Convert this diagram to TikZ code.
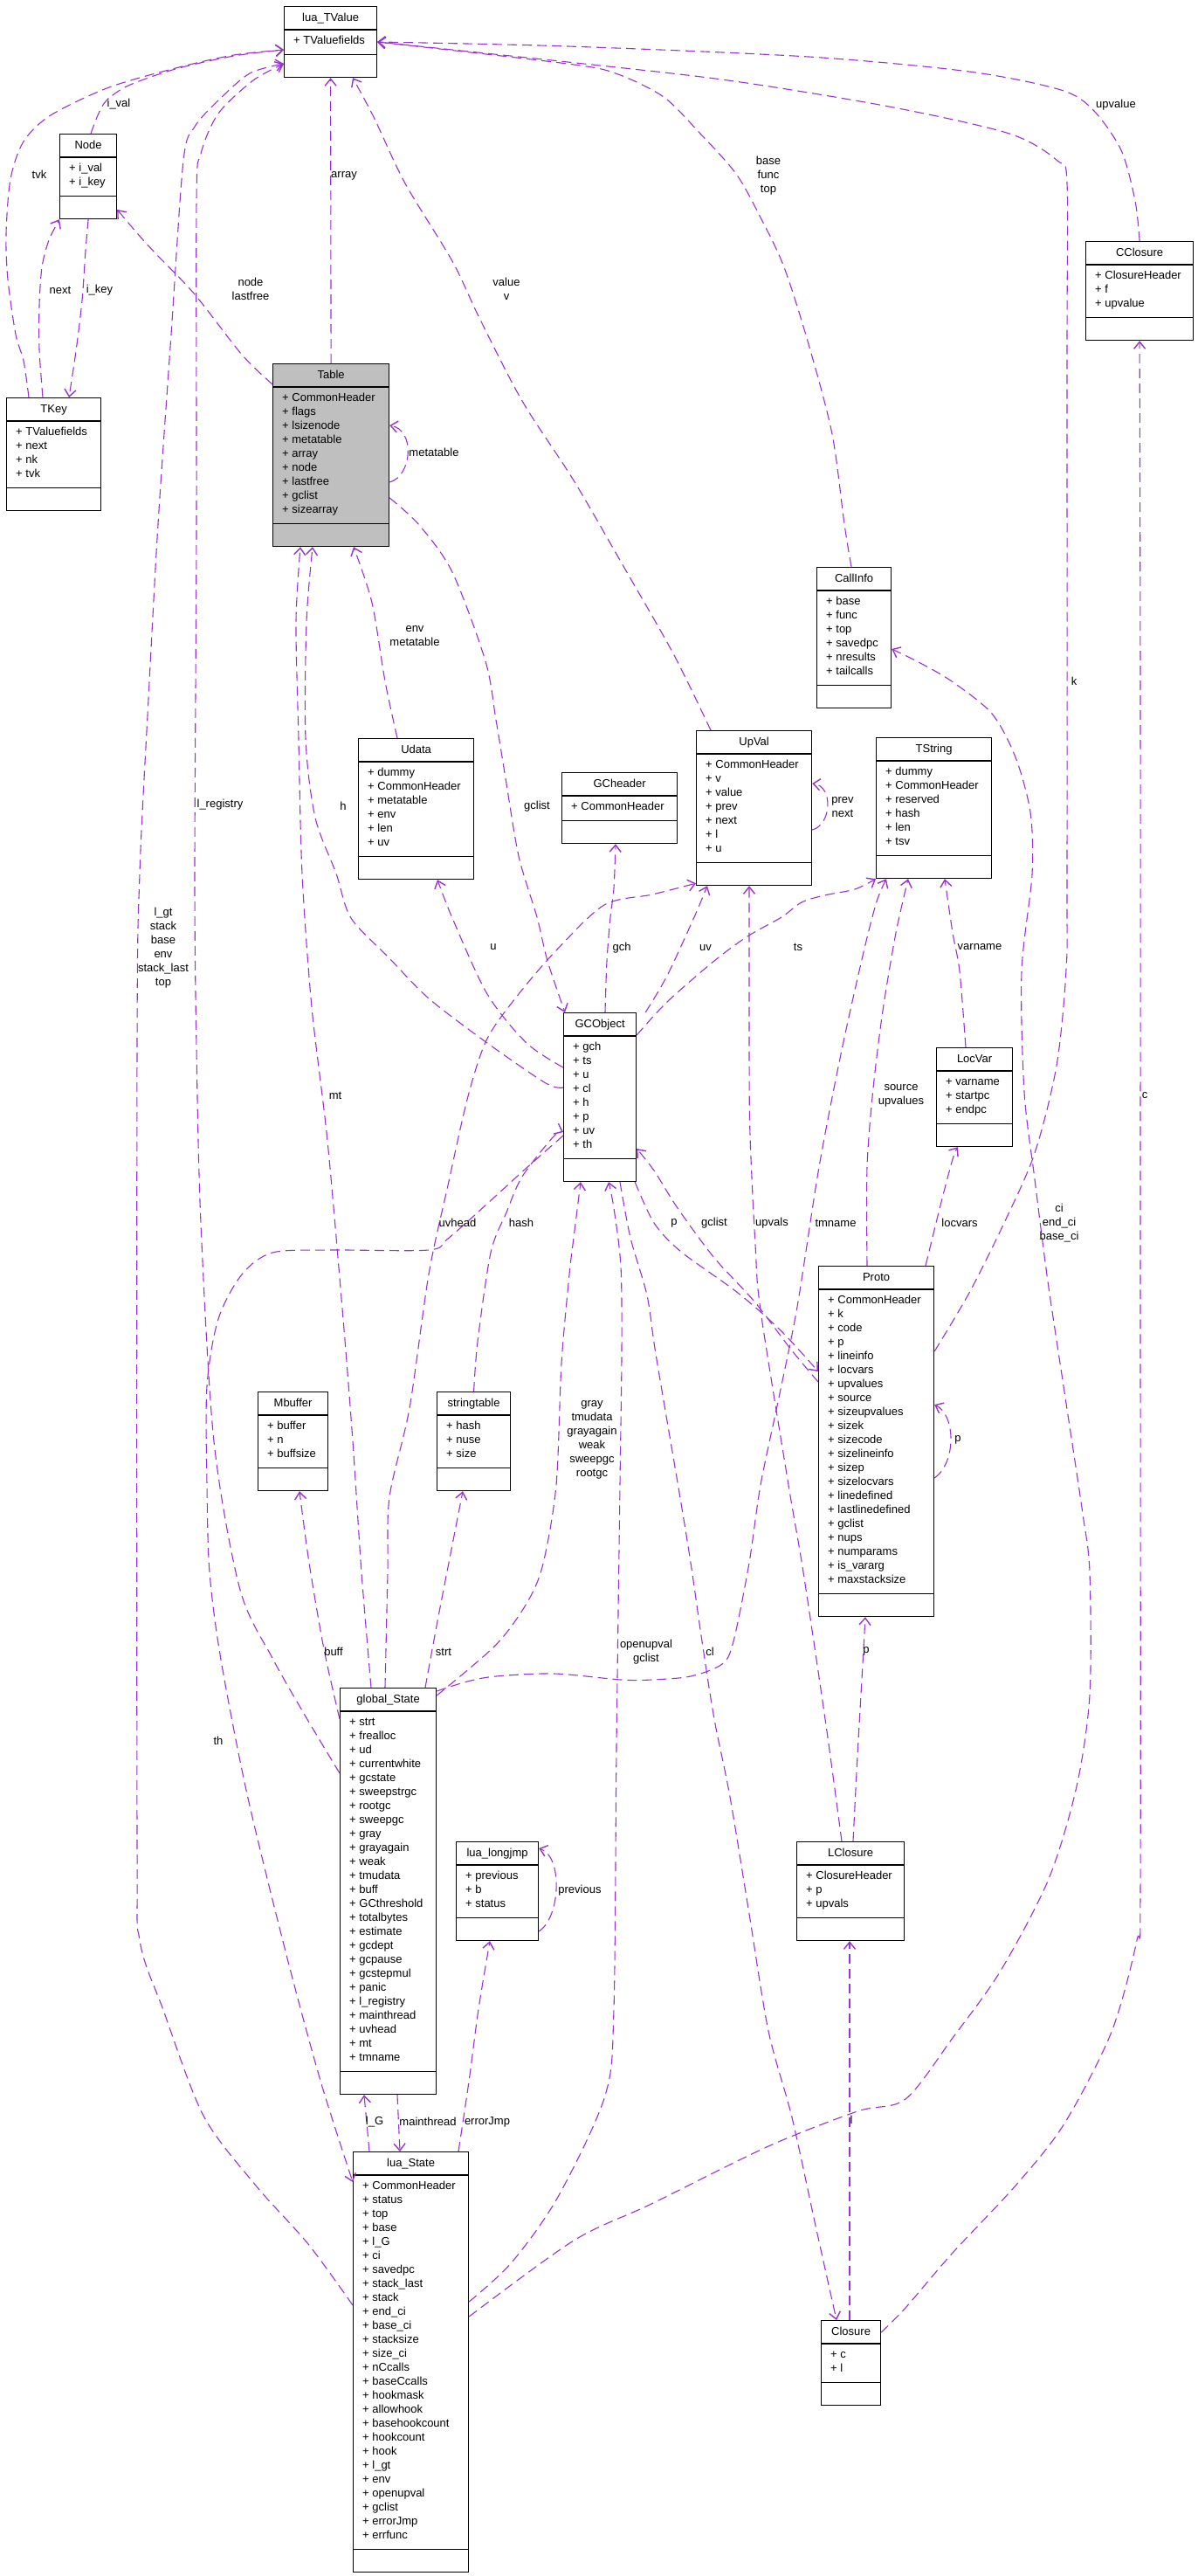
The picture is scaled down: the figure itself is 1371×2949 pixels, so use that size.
\documentclass[tikz,border=0pt]{standalone}
\usepackage{fontspec}
\setmainfont{Liberation Sans}
\usetikzlibrary{arrows.meta, calc}
\definecolor{edgepurple}{HTML}{9A32CD}
\definecolor{tablegray}{HTML}{BFBFBF}

% class box: [extra style]{name}{x}{y}{width}{number of fields}{title}{fields}
\newcommand{\umlclass}[8][]{%
  \node[clsbox, #1, minimum width=#5, minimum height={65+16*#6}, anchor=north west] (#2) at (#3,#4) {};
  \node[clstitle] (#2-title) at ([yshift=-14]#2.north) {#7};
  \draw[clsline] ([yshift=-27]#2.north west) -- ([yshift=-27]#2.north east);
  \draw[clsline] ([yshift=27]#2.south west) -- ([yshift=27]#2.south east);
  \foreach \fld [count=\fidx] in {#8}
    \node[clsfield] (#2-f\fidx) at ([xshift=11,yshift={-27.5-16*\fidx}]#2.north west) {+ \fld};
}

\begin{document}
\begin{tikzpicture}[x=1pt, y=-1pt,
    every node/.style={font=\fontsize{13}{16}\selectfont},
    clsbox/.style={draw, line width=1.2pt, fill=white, inner sep=0pt},
    clsline/.style={line width=1.2pt},
    clstitle/.style={inner sep=0pt, text height=9.5pt, text depth=2.5pt},
    clsfield/.style={anchor=base west, inner sep=0pt},
    lbl/.style={inner sep=0pt, align=center},
    dep/.style={draw=edgepurple, line width=1.1pt, dash pattern=on 11pt off 6pt,
      -{Straight Barb[length=8pt,width=13pt,line width=1.4pt]}},
]
\path[fill=white, use as bounding box] (0,0) rectangle (1371,2949);

% Classes
\umlclass{tvalue}{325}{7}{106}{1}{lua\_TValue}{TValuefields}
\umlclass{node}{68}{153}{65}{2}{Node}{i\_val, i\_key}
\umlclass{tkey}{7}{455}{108}{4}{TKey}{TValuefields, next, nk, tvk}
\umlclass[fill=tablegray]{table}{312}{416}{133}{9}{Table}{CommonHeader, flags, lsizenode, metatable, array, node, lastfree, gclist, sizearray}
\umlclass{cclosure}{1243}{276}{123}{3}{CClosure}{ClosureHeader, f, upvalue}
\umlclass{callinfo}{935}{649}{85}{6}{CallInfo}{base, func, top, savedpc, nresults, tailcalls}
\umlclass{udata}{410}{845}{132}{6}{Udata}{dummy, CommonHeader, metatable, env, len, uv}
\umlclass{gcheader}{643}{884}{132}{1}{GCheader}{CommonHeader}
\umlclass{upval}{797}{836}{132}{7}{UpVal}{CommonHeader, v, value, prev, next, l, u}
\umlclass{tstring}{1003}{844}{132}{6}{TString}{dummy, CommonHeader, reserved, hash, len, tsv}
\umlclass{gcobject}{645}{1159}{83}{8}{GCObject}{gch, ts, u, cl, h, p, uv, th}
\umlclass{locvar}{1072}{1199}{87}{3}{LocVar}{varname, startpc, endpc}
\umlclass{proto}{937}{1449}{132}{21}{Proto}{CommonHeader, k, code, p, lineinfo, locvars, upvalues, source, sizeupvalues, sizek, sizecode, sizelineinfo, sizep, sizelocvars, linedefined, lastlinedefined, gclist, nups, numparams, is\_vararg, maxstacksize}
\umlclass{mbuffer}{295}{1593}{80}{3}{Mbuffer}{buffer, n, buffsize}
\umlclass{strtab}{500}{1593}{84}{3}{stringtable}{hash, nuse, size}
\umlclass{gstate}{389}{1932}{110}{25}{global\_State}{strt, frealloc, ud, currentwhite, gcstate, sweepstrgc, rootgc, sweepgc, gray, grayagain, weak, tmudata, buff, GCthreshold, totalbytes, estimate, gcdept, gcpause, gcstepmul, panic, l\_registry, mainthread, uvhead, mt, tmname}
\umlclass{longjmp}{522}{2108}{94}{3}{lua\_longjmp}{previous, b, status}
\umlclass{lclosure}{912}{2108}{123}{3}{LClosure}{ClosureHeader, p, upvals}
\umlclass{lstate}{404}{2463}{132}{26}{lua\_State}{CommonHeader, status, top, base, l\_G, ci, savedpc, stack\_last, stack, end\_ci, base\_ci, stacksize, size\_ci, nCcalls, baseCcalls, hookmask, allowhook, basehookcount, hookcount, hook, l\_gt, env, openupval, gclist, errorJmp, errfunc}
\umlclass{closure}{940}{2656}{68}{2}{Closure}{c, l}

% Edges into lua_TValue
\draw[dep] plot[smooth] coordinates {([shift={(26,0)}]tkey.north west) (27,413) (18,383) (9,320) (7,268) (12,205) (27,162) (58,132) (125,100) (205,77) (268,63) ([shift={(0,50)}]tvalue.north west)};
\draw[dep] plot[smooth] coordinates {([shift={(36,0)}]node.north west) (112,132) (122,115) (147,98) (201,79) (268,64) ([shift={(0,50)}]tvalue.north west)};
\draw[dep] (table.north) -- (tvalue.south);
\draw[dep] plot[smooth] coordinates {([shift={(17,0)}]upval.north west) (772,750) (715,650) (657,550) (598,459) (549,364) (518,299) (464,210) (428,134) ([shift={(79,0)}]tvalue.south west)};
\draw[dep] plot[smooth] coordinates {(cclosure.north) (1300,230) (1284,172) (1252,126) (1215,103) (1110,82) (926,65) (650,53) ([shift={(0,41)}]tvalue.north east)};
\draw[dep] plot[smooth] coordinates {([shift={(0,98)}]proto.north east) (1110,1480) (1150,1400) (1185,1320) (1210,1220) (1221,1110) (1222,1000) (1222,400) (1222,210) (1211,184) (1156,153) (1018,122) (834,92) (650,71) ([shift={(0,41)}]tvalue.north east)};
\draw[dep] plot[smooth] coordinates {([shift={(40,0)}]callinfo.north west) (967,600) (953,497) (926,394) (898,306) (871,249) (843,199) (802,153) (760,111) (705,84) (650,73) ([shift={(0,41)}]tvalue.north east)};
\draw[dep] plot[smooth] coordinates {([shift={(0,98)}]gstate.north west) (350,1965) (313,1900) (275,1820) (245,1650) (230,1400) (225,1200) (223,1000) (225,600) (225,230) (230,176) (250,130) (290,92) ([shift={(0,66)}]tvalue.north west)};
\draw[dep] plot[smooth] coordinates {([shift={(0,176)}]lstate.north west) (353,2569) (293,2502) (233,2422) (187,2301) (160,2221) (157,2100) (157,1200) (160,1000) (170,800) (181,600) (196,383) (210,184) (223,145) (250,115) (286,84) ([shift={(0,66)}]tvalue.north west)};

% Node and TKey
\draw[dep] plot[smooth] coordinates {([shift={(42,0)}]tkey.north west) (45,400) (45,350) (48,306) (56,275) (node.south west)};
\draw[dep] plot[smooth] coordinates {(node.south) (98,287) (94,344) (87,402) ([shift={(72,0)}]tkey.north west)};
\draw[dep] plot[smooth] coordinates {([shift={(0,24)}]table.north west) (277,406) (223,337) (179,291) (158,268) ([shift={(0,87)}]node.north east)};

% Table
\draw[dep] ([shift={(0,136)}]table.north east) .. controls (472,545) and (476,492) .. ([shift={(0,71)}]table.north east);
\draw[dep] plot[smooth] coordinates {([shift={(45,0)}]udata.north west) (441,780) (426,690) ([shift={(93,0)}]table.south west)};
\draw[dep] plot[smooth] coordinates {([shift={(0,86)}]gcobject.north west) (625,1240) (558,1194) (491,1143) (446,1097) (402,1051) (385,1000) (361,936) (350,846) (351,712) ([shift={(46,0)}]table.south west)};
\draw[dep] plot[smooth] coordinates {([shift={(36,0)}]gstate.north west) (414,1800) (404,1650) (393,1510) (375,1306) (357,1153) (346,1000) (342,846) (339,712) ([shift={(32,0)}]table.south west)};

% GCObject
\draw[dep] plot[smooth] coordinates {([shift={(0,154)}]table.north east) (480,601) (518,655) (556,757) (568,824) (579,891) (594,980) (615,1050) (627,1100) ([shift={(2,0)}]gcobject.north west)};
\draw[dep] plot[smooth] coordinates {([shift={(0,133)}]proto.north west) (906,1545) (864,1490) (818,1440) (776,1383) (749,1340) ([shift={(0,156)}]gcobject.north east)};
\draw[dep] plot[smooth] coordinates {([shift={(0,172)}]lstate.north east) (586,2590) (639,2515) (693,2399) (703,2300) (706,2000) (710,1700) (712,1550) (711,1450) (703,1383) ([shift={(52,0)}]gcobject.south west)};
\draw[dep] plot[smooth] coordinates {([shift={(0,9)}]gstate.north east) (568,1883) (604,1834) (622,1790) (637,1700) (643,1561) (652,1459) (657,1417) ([shift={(20,0)}]gcobject.south west)};
\draw[dep] plot[smooth] coordinates {(strtab.north) (547,1536) (562,1434) (580,1388) (598,1347) (634,1301) ([shift={(0,137)}]gcobject.north west)};

% from GCObject
\draw[dep] plot[smooth] coordinates {([shift={(10,0)}]gcobject.north east) (764,1117) (795,1050) ([shift={(13,0)}]upval.south west)};
\draw[dep] plot[smooth] coordinates {([shift={(48,0)}]gcobject.north west) (695,1100) (699,1050) (703,1017) ([shift={(62,0)}]gcheader.south west)};
\draw[dep] plot[smooth] coordinates {([shift={(0,63)}]gcobject.north west) (603,1194) (558,1138) (518,1051) ([shift={(91,0)}]udata.south west)};
\draw[dep] plot[smooth] coordinates {([shift={(0,26)}]gcobject.north east) (764,1147) (818,1100) (856,1072) (895,1050) (918,1033) (944,1025) (979,1018) (tstring.south west)};
\draw[dep] plot[smooth] coordinates {([shift={(-2,0)}]gcobject.south east) (749,1400) (780,1433) (845,1480) (894,1523) ([shift={(0,121)}]proto.north west)};
\draw[dep] plot[smooth] coordinates {([shift={(65,0)}]gcobject.south west) (722,1417) (741,1483) (751,1550) (778,1709) (791,1789) (804,1879) (818,1968) (836,2057) (858,2191) (880,2325) (907,2424) (934,2548) ([shift={(18,0)}]closure.north west)};
\draw[dep] plot[smooth] coordinates {([shift={(0,141)}]gcobject.north west) (603,1337) (558,1378) (513,1418) (491,1431) (379,1431) (312,1434) (277,1459) (250,1510) (237,1587) (237,1700) (240,1800) (253,1900) (283,2054) (327,2234) (367,2382) ([shift={(0,35)}]lstate.north west)};

% UpVal, TString, LocVar
\draw[dep] ([shift={(0,114)}]upval.north east) .. controls (952,945) and (955,900) .. ([shift={(0,61)}]upval.north east);
\draw[dep] plot[smooth] coordinates {([shift={(52,0)}]gstate.north west) (444,1800) (446,1714) (469,1612) (491,1459) (513,1357) (536,1255) (558,1189) (594,1138) (638,1087) (692,1036) (747,1024) ([shift={(0,-3)}]upval.south west)};
\draw[dep] plot[smooth] coordinates {([shift={(52,0)}]lclosure.north west) (946,1975) (920,1800) (903,1700) (871,1500) (865,1425) (859,1300) (858,1202) ([shift={(61,0)}]upval.south west)};
\draw[dep] plot[smooth] coordinates {([shift={(0,4)}]gstate.north east) (535,1925) (568,1919) (635,1916) (711,1923) (746,1923) (791,1919) (827,1905) (840,1879) (858,1789) (871,1700) (892,1600) (913,1496) (938,1336) (964,1202) (989,1090) (1004,1032) ([shift={(12,0)}]tstring.south west)};
\draw[dep] plot[smooth] coordinates {([shift={(56,0)}]proto.north west) (993,1336) (1000,1246) (1011,1157) (1026,1068) ([shift={(37,0)}]tstring.south west)};
\draw[dep] plot[smooth] coordinates {([shift={(34,0)}]locvar.north west) (1099,1112) (1091,1068) ([shift={(79,0)}]tstring.south west)};
\draw[dep] plot[smooth] coordinates {([shift={(123,0)}]proto.north west) (1077,1380) (1091,1327) ([shift={(25,0)}]locvar.south west)};

% Proto, closures, CallInfo
\draw[dep] ([shift={(0,243)}]proto.north east) .. controls (1095,1675) and (1095,1620) .. ([shift={(0,159)}]proto.north east);
\draw[dep] plot[smooth] coordinates {([shift={(65,0)}]lclosure.north west) (982,2010) (988,1905) ([shift={(54,0)}]proto.south west)};
\draw[dep] ([shift={(33,0)}]closure.north west) -- ([shift={(61,0)}]lclosure.south west);
\draw[dep] plot[smooth] coordinates {([shift={(0,14)}]closure.north east) (1037,2642) (1091,2579) (1164,2501) (1219,2431) (1273,2326) (1302,2221) (1306,2165) (1306,1500) (1306,800) (cclosure.south)};
\draw[dep] plot[smooth] coordinates {([shift={(0,189)}]lstate.north east) (657,2565) (746,2523) (880,2457) (982,2417) (1037,2403) (1091,2333) (1146,2256) (1201,2151) (1233,2045) (1248,1940) (1248,1800) (1240,1733) (1220,1600) (1200,1467) (1185,1350) (1173,1250) (1170,1112) (1182,1001) (1180,930) (1163,867) (1136,817) (1090,780) (1052,758) ([shift={(0,94)}]callinfo.north east)};

% global_State and lua_State
\draw[dep] plot[smooth] coordinates {([shift={(98,0)}]gstate.north west) (501,1856) (514,1789) ([shift={(30,0)}]strtab.south west)};
\draw[dep] plot[smooth] coordinates {([shift={(0,36)}]gstate.north west) (371,1888) (354,1789) ([shift={(48,0)}]mbuffer.south west)};
\draw[dep] ([shift={(19,0)}]lstate.north west) -- ([shift={(28,0)}]gstate.south west);
\draw[dep] ([shift={(66,0)}]gstate.south west) -- ([shift={(54,0)}]lstate.north west);
\draw[dep] plot[smooth] coordinates {([shift={(121,0)}]lstate.north west) (537,2383) (548,2300) ([shift={(39,0)}]longjmp.south west)};
\draw[dep] ([shift={(0,103)}]longjmp.north east) .. controls (642,2195) and (645,2125) .. ([shift={(0,8)}]longjmp.north east);

% Labels
\node[lbl] (l-tvk) at (45,200) {tvk};
\node[lbl] (l-ival) at (136,119) {i\_val};
\node[lbl] (l-next) at (69,332) {next};
\node[lbl] (l-ikey) at (114,332) {i\_key};
\node[lbl] (l-node) at (287,331) {node\\lastfree};
\node[lbl] (l-array) at (394,201) {array};
\node[lbl] (l-value) at (580,331) {value\\v};
\node[lbl] (l-upvalue) at (1278,120) {upvalue};
\node[lbl] (l-base) at (880,201) {base\\func\\top};
\node[lbl] (l-meta) at (497,518) {metatable};
\node[lbl] (l-gclist) at (615,923) {gclist};
\node[lbl] (l-env) at (475,728) {env\\metatable};
\node[lbl] (l-h) at (393,923) {h};
\node[lbl] (l-registry) at (252,921) {l\_registry};
\node[lbl] (l-lgt) at (187,1085) {l\_gt\\stack\\base\\env\\stack\_last\\top};
\node[lbl] (l-k) at (1230,780) {k};
\node[lbl] (l-mt) at (384,1254) {mt};
\node[lbl] (l-u) at (565,1084) {u};
\node[lbl] (l-gch) at (712,1085) {gch};
\node[lbl] (l-uv) at (808,1085) {uv};
\node[lbl] (l-ts) at (914,1084) {ts};
\node[lbl] (l-varname) at (1122,1084) {varname};
\node[lbl] (l-source) at (1032,1254) {source\\upvalues};
\node[lbl] (l-locvars) at (1099,1400) {locvars};
\node[lbl] (l-ploop) at (1097,1648) {p};
\node[lbl] (l-pl) at (992,1890) {p};
\node[lbl] (l-upvals) at (884,1400) {upvals};
\node[lbl] (l-tmname) at (957,1400) {tmname};
\node[lbl] (l-ci) at (1213,1400) {ci\\end\_ci\\base\_ci};
\node[lbl] (l-c) at (1311,1254) {c};
\node[lbl] (l-uvhead) at (524,1400) {uvhead};
\node[lbl] (l-hash) at (597,1400) {hash};
\node[lbl] (l-gray) at (678,1648) {gray\\tmudata\\grayagain\\weak\\sweepgc\\rootgc};
\node[lbl] (l-buff) at (382,1891) {buff};
\node[lbl] (l-strt) at (508,1891) {strt};
\node[lbl] (l-openupval) at (740,1891) {openupval\\gclist};
\node[lbl] (l-cl) at (813,1891) {cl};
\node[lbl] (l-th) at (250,1993) {th};
\node[lbl] (l-lG) at (429,2429) {l\_G};
\node[lbl] (l-main) at (490,2429) {mainthread};
\node[lbl] (l-errjmp) at (558,2429) {errorJmp};
\node[lbl] (l-previous) at (664,2164) {previous};
\node[lbl] (l-l) at (975,2427) {l};
\node[lbl] (l-prev) at (965,924) {prev\\next};
\node[lbl] (l-pgclist) at (818,1400) {gclist};
\node[lbl] (l-pgc) at (772,1400) {p};

\end{tikzpicture}
\end{document}
